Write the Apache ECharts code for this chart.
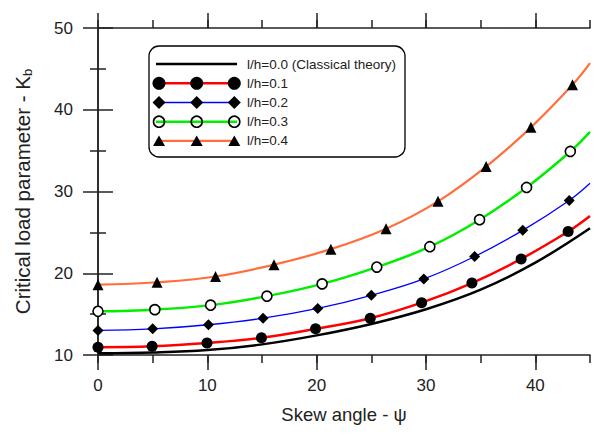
<!DOCTYPE html>
<html>
<head>
<meta charset="utf-8">
<script src="https://cdn.jsdelivr.net/npm/echarts@6/dist/echarts.min.js"></script>
<style>
html, body { margin: 0; padding: 0; background: #fff; }
#main { width: 598px; height: 435px; }
</style>
</head>
<body>
<div id="main"></div>
<script>
// l/h = 0.0, classical theory (line only)
var xClassic = [0, 5, 10, 15, 20, 25, 30, 35, 40, 45];
var yClassic = [10.2, 10.3, 10.6, 11.3, 12.4, 13.8, 15.6, 18.0, 21.3, 25.5];
// l/h = 0.1
var x01 = [0, 4.95, 9.97, 14.95, 19.9, 24.9, 29.6, 34.2, 38.7, 43.0];
var y01 = [10.94, 11.06, 11.47, 12.1, 13.2, 14.5, 16.4, 18.8, 21.75, 25.1];
// l/h = 0.2
var x02 = [0, 5.0, 10.1, 15.1, 20.1, 25.0, 29.8, 34.45, 38.85, 43.1];
var y02 = [13.0, 13.2, 13.7, 14.5, 15.7, 17.3, 19.3, 22.05, 25.25, 28.9];
// l/h = 0.3
var x03 = [0, 5.2, 10.3, 15.45, 20.5, 25.5, 30.35, 34.9, 39.2, 43.2];
var y03 = [15.35, 15.55, 16.1, 17.2, 18.7, 20.75, 23.25, 26.55, 30.5, 34.9];
// l/h = 0.4
var x04 = [0, 5.4, 10.75, 16.1, 21.3, 26.35, 31.1, 35.5, 39.6, 43.4];
var y04 = [18.6, 18.9, 19.6, 21.05, 22.95, 25.45, 28.8, 33.05, 37.85, 43.05];
// where the curves leave the plot at psi = 45
var yEnd = [27.0, 31.0, 37.3, 45.7];

var names = ['l/h=0.0 (Classical theory)', 'l/h=0.1', 'l/h=0.2', 'l/h=0.3', 'l/h=0.4'];
var colors = ['#000000', '#ff0000', '#0000ff', '#00ee00', '#ff6e3c'];

var FONT = '"Liberation Sans", Arial, sans-serif';
var INK = '#222';

function pairs(xs, ys, end) {
	var d = [];
	for (var i = 0; i < xs.length; i++) d.push([xs[i], ys[i]]);
	if (end != null) d.push({ value: [45, end], symbol: 'none' });
	return d;
}

var myChart = echarts.init(document.getElementById('main'), null, { renderer: 'svg' });

// legend drawn by hand: line with three markers like the original
var legendItems = [];
var lx = 149, ly = 46, rowY = [64, 83.3, 102.5, 121.7, 140.9], mk = [159, 196.7, 234.3];
legendItems.push({
	type: 'rect', shape: { x: lx, y: ly, width: 256, height: 111, r: 10 },
	style: { fill: '#fff', stroke: '#000', lineWidth: 1.3 }, z: 10
});
function marker(kind, cx, cy) {
	if (kind == 1) return { type: 'circle', shape: { cx: cx, cy: cy, r: 6.5 }, style: { fill: '#000' }, z: 12 };
	if (kind == 2) return { type: 'polygon', shape: { points: [[cx, cy - 6.5], [cx + 6.5, cy], [cx, cy + 6.5], [cx - 6.5, cy]] }, style: { fill: '#000' }, z: 12 };
	if (kind == 3) return { type: 'circle', shape: { cx: cx, cy: cy, r: 5.5 }, style: { fill: 'none', stroke: '#000', lineWidth: 1.6 }, z: 12 };
	return { type: 'polygon', shape: { points: [[cx, cy - 5.5], [cx + 6, cy + 5], [cx - 6, cy + 5]] }, style: { fill: '#000' }, z: 12 };
}
var lw = [2.5, 2.5, 1.3, 2.5, 2.2];
for (var i = 0; i < names.length; i++) {
	legendItems.push({
		type: 'line', shape: { x1: 156, y1: rowY[i], x2: 237, y2: rowY[i] },
		style: { stroke: colors[i], lineWidth: lw[i] }, z: 11
	});
	if (i > 0) {
		for (var j = 0; j < 3; j++) legendItems.push(marker(i, mk[j], rowY[i]));
	}
	legendItems.push({
		type: 'text', x: 247, y: rowY[i],
		style: { text: names[i], font: '13.5px ' + FONT, fill: INK, verticalAlign: 'middle' }, z: 12
	});
}

var axisLine = { lineStyle: { color: INK, width: 1.5 } };
var tickStyle = { color: INK, width: 1.5 };

myChart.setOption({
	backgroundColor: '#fff',
	animation: false,
	grid: { left: 98, right: 8, top: 28, bottom: 80 },
	xAxis: [{
		type: 'value', position: 'bottom', min: 0, max: 45, interval: 5,
		axisLine: axisLine,
		axisTick: { length: 8, lineStyle: tickStyle },
		axisLabel: {
			formatter: function(v) { return v % 10 === 0 ? v : ''; },
			fontSize: 17, fontFamily: FONT, color: INK, margin: 22
		},
		splitLine: { show: false },
		name: 'Skew angle - ψ', nameLocation: 'middle', nameGap: 50,
		nameTextStyle: { fontSize: 18.5, fontFamily: FONT, color: INK }
	}, {
		type: 'value', position: 'bottom', min: 0, max: 45,
		axisLine: { show: false },
		axisTick: { customValues: [0, 10, 20, 30, 40], length: 15, lineStyle: tickStyle },
		axisLabel: { show: false }, splitLine: { show: false }
	}, {
		type: 'value', position: 'top', min: 0, max: 45, interval: 5,
		axisLine: axisLine,
		axisTick: { length: 8, lineStyle: tickStyle },
		axisLabel: { show: false }, splitLine: { show: false }
	}, {
		type: 'value', position: 'top', min: 0, max: 45,
		axisLine: { show: false },
		axisTick: { customValues: [0, 10, 20, 30, 40], length: 15, lineStyle: tickStyle },
		axisLabel: { show: false }, splitLine: { show: false }
	}],
	yAxis: [{
		type: 'value', position: 'left', min: 10, max: 50, interval: 10,
		axisLine: axisLine,
		axisTick: { length: 15, lineStyle: tickStyle },
		minorTick: { show: true, splitNumber: 2, length: 8, lineStyle: tickStyle },
		axisLabel: { fontSize: 17, fontFamily: FONT, color: INK, margin: 25 },
		splitLine: { show: false },
		name: 'Critical load parameter - K{sub|b}', nameLocation: 'middle', nameGap: 64,
		nameTextStyle: {
			fontSize: 20.5, fontFamily: FONT, color: INK,
			rich: { sub: { fontSize: 13, fontFamily: FONT, color: INK, padding: [11, 0, 0, 0] } }
		}
	}, {
		type: 'value', position: 'right', min: 10, max: 50, interval: 10,
		axisLine: axisLine,
		axisTick: { length: 15, lineStyle: tickStyle },
		minorTick: { show: true, splitNumber: 2, length: 8, lineStyle: tickStyle },
		axisLabel: { show: false }, splitLine: { show: false }
	}],
	graphic: legendItems,
	series: [{
		name: names[0], type: 'line', smooth: 0.4, symbol: 'none',
		lineStyle: { color: colors[0], width: 2.5 },
		data: pairs(xClassic, yClassic, null)
	}, {
		name: names[1], type: 'line', smooth: 0.4, symbol: 'circle', symbolSize: 11,
		itemStyle: { color: '#000' },
		lineStyle: { color: colors[1], width: 2.5 },
		data: pairs(x01, y01, yEnd[0])
	}, {
		name: names[2], type: 'line', smooth: 0.4, symbol: 'diamond', symbolSize: 11,
		itemStyle: { color: '#000' },
		lineStyle: { color: colors[2], width: 1.3 },
		data: pairs(x02, y02, yEnd[1])
	}, {
		name: names[3], type: 'line', smooth: 0.4, symbol: 'circle', symbolSize: 10,
		itemStyle: { color: '#fff', borderColor: '#000', borderWidth: 1.6 },
		lineStyle: { color: colors[3], width: 2.5 },
		data: pairs(x03, y03, yEnd[2])
	}, {
		name: names[4], type: 'line', smooth: 0.4, symbol: 'triangle', symbolSize: 11,
		itemStyle: { color: '#000' },
		lineStyle: { color: colors[4], width: 2.2 },
		data: pairs(x04, y04, yEnd[3])
	}]
});
</script>
</body>
</html>
